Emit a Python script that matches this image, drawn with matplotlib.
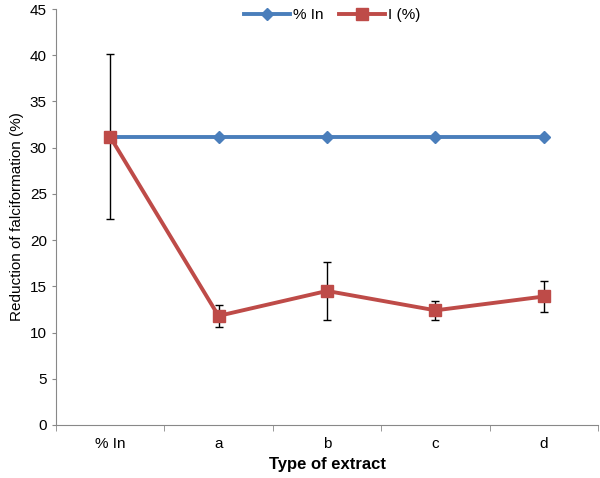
import matplotlib
matplotlib.use("Agg")
import matplotlib.pyplot as plt
from matplotlib.lines import Line2D

# 数据
categories = ['% In', 'a', 'b', 'c', 'd']
pct_in = [31.2, 31.2, 31.2, 31.2, 31.2]
inhib = [31.2, 11.8, 14.5, 12.4, 13.9]
inhib_err = [8.9, 1.15, 3.15, 1.05, 1.65]

plt.rcParams['font.family'] = ['Liberation Sans', 'DejaVu Sans']

fig = plt.figure(figsize=(6, 4.78), dpi=100)
ax = fig.add_axes([0.093, 0.111, 0.904, 0.87])

x = list(range(len(categories)))
ax.plot(x, pct_in, color='#4A7EBB', lw=2.8, marker='D', ms=6, zorder=3)
ax.errorbar(x, inhib, yerr=inhib_err, color='#BE4B48', lw=2.8, marker='s', ms=9,
            ecolor='black', elinewidth=1, capsize=3, capthick=1, zorder=4)

ax.set_xlim(-0.5, 4.5)
ax.set_ylim(0, 45)
ax.set_yticks(range(0, 46, 5))
ax.set_xticks(x)
ax.set_xticklabels(categories, fontsize=11)
ax.set_xticks([i + 0.5 for i in range(-1, 5)], minor=True)
ax.tick_params(axis='x', which='major', length=0, pad=9)
ax.tick_params(axis='x', which='minor', length=4, color='#888888', direction='out')
ax.tick_params(axis='y', labelsize=11, length=3, color='#888888', direction='out')
for s in ['top', 'right']:
    ax.spines[s].set_visible(False)
for s in ['left', 'bottom']:
    ax.spines[s].set_color('#888888')
ax.set_ylabel('Reduction of falciformation (%)', fontsize=11)
ax.set_xlabel('Type of extract', fontsize=12, fontweight='bold')

handles = [Line2D([], [], color='#4A7EBB', lw=2.8, marker='D', ms=6),
           Line2D([], [], color='#BE4B48', lw=2.8, marker='s', ms=8)]
ax.legend(handles, ['% In', 'I (%)'], loc='upper center', bbox_to_anchor=(0.51, 1.035),
          ncol=2, frameon=False, fontsize=11, handlelength=3, columnspacing=1,
          handletextpad=0.2)

fig.savefig('out.png', dpi=100)
